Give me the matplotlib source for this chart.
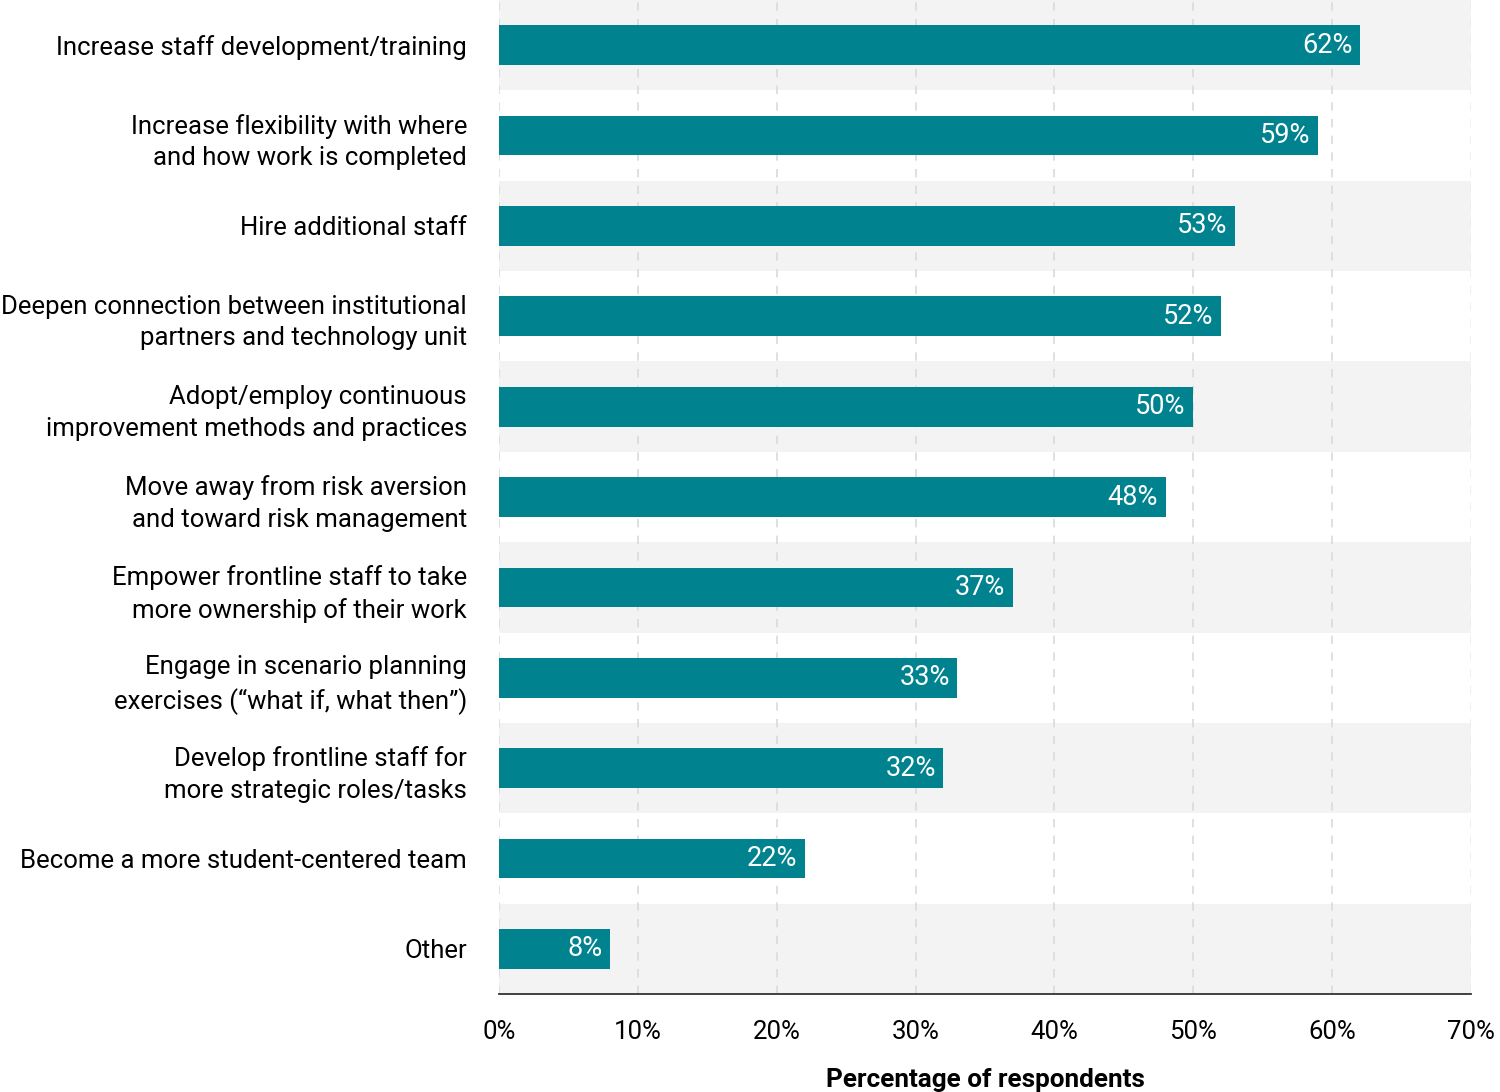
import numpy as np
import matplotlib.pyplot as plt

plt.rcParams['font.family'] = ['Roboto', 'DejaVu Sans']

# Data
categories = [
    "Increase staff development/training",
    "Increase flexibility with where\nand how work is completed",
    "Hire additional staff",
    "Deepen connection between institutional\npartners and technology unit",
    "Adopt/employ continuous\nimprovement methods and practices",
    "Move away from risk aversion\nand toward risk management",
    "Empower frontline staff to take\nmore ownership of their work",
    "Engage in scenario planning\nexercises (\u201cwhat if, what then\u201d)",
    "Develop frontline staff for\nmore strategic roles/tasks",
    "Become a more student-centered team",
    "Other",
]
values = [62, 59, 53, 52, 50, 48, 37, 33, 32, 22, 8]
xticks = [0, 10, 20, 30, 40, 50, 60, 70]

bar_color = '#00838f'
band_color = '#f3f3f3'

fig = plt.figure(figsize=(15, 10.92), dpi=100)
ax = fig.add_axes([0.3327, 0.0897, 0.648, 0.9103])

y = np.arange(len(categories))

# Alternating background bands
for i in y:
    if i % 2 == 0:
        ax.axhspan(i - 0.5, i + 0.5, color=band_color, zorder=0, lw=0)

# Dashed vertical gridlines (last one faint)
for t in xticks:
    col = '#ececec' if t == xticks[-1] else '#dadada'
    ax.axvline(t, color=col, lw=1.2, ls=(0, (5, 5)), zorder=1)

ax.barh(y, values, height=0.44, color=bar_color, zorder=2)

for yi, v in zip(y, values):
    ax.text(v - 0.55, yi, f"{v}%", ha='right', va='center',
            color='white', fontsize=19.5, zorder=3)

ax.set_xlim(0, 70)
ax.set_ylim(len(categories) - 0.5, -0.5)
ax.set_yticks(y)
ax.set_yticklabels(categories, fontsize=18.5, linespacing=1.4)
ax.set_xticks(xticks)
ax.set_xticklabels([f"{t}%" for t in xticks], fontsize=18.5)
ax.tick_params(axis='y', length=0, pad=23)
ax.tick_params(axis='x', length=0, pad=19)

for s in ['top', 'right', 'left']:
    ax.spines[s].set_visible(False)
ax.spines['bottom'].set_color('#333333')
ax.spines['bottom'].set_linewidth(1.3)

ax.set_xlabel("Percentage of respondents", fontsize=18.8,
              fontweight='bold', labelpad=17)

fig.savefig('out.png', dpi=100)
